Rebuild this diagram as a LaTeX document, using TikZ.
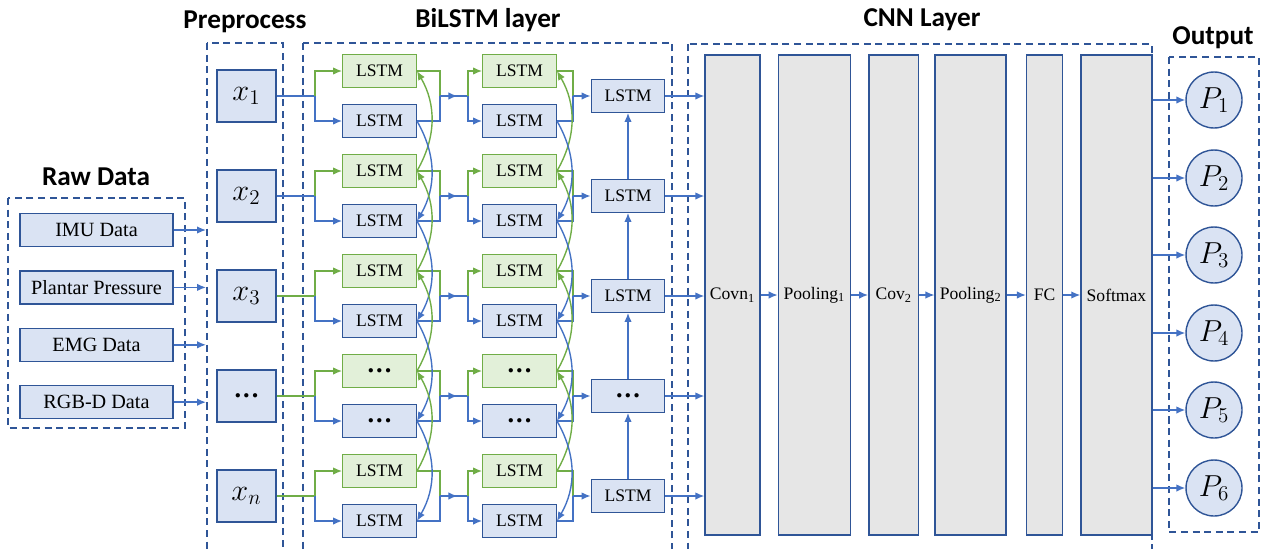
\documentclass[tikz,border=0pt]{standalone}
\usepackage{fontspec}
\setmainfont{Liberation Serif}
\newfontfamily\headfont{Carlito}
\usepackage{xcolor}
\usetikzlibrary{arrows.meta, positioning, calc, decorations.markings}

\definecolor{linkblue}{RGB}{68,114,196}
\definecolor{edgeblue}{RGB}{47,85,151}
\definecolor{cellblue}{RGB}{218,227,243}
\definecolor{linkgreen}{RGB}{112,173,71}
\definecolor{cellgreen}{RGB}{226,240,217}
\definecolor{layergray}{RGB}{230,230,230}

\newcommand{\vsub}[2]{$#1_{#2}$}
\newcommand{\gapdots}{{\fontsize{15}{15}\selectfont\bfseries .\kern1.2pt.\kern1.2pt.}}

\tikzset{
  groupframe/.style={
    draw=edgeblue, line width=1.15pt, dash pattern=on 4pt off 2.6pt
  },
  grouptitle/.style={
    font=\headfont\bfseries\fontsize{15.5}{18}\selectfont, inner sep=0pt
  },
  rawbox/.style={
    draw=edgeblue, fill=cellblue, line width=0.8pt, inner sep=0pt,
    minimum width=3.06cm, minimum height=0.66cm,
    font=\fontsize{11.5}{13}\selectfont
  },
  innode/.style={
    draw=edgeblue, fill=cellblue, line width=0.8pt, inner sep=0pt,
    minimum width=1.18cm, minimum height=1.04cm,
    font=\fontsize{17}{19}\selectfont
  },
  fwdcell/.style={
    draw=edgeblue, fill=cellblue, line width=0.8pt, inner sep=0pt,
    minimum width=1.47cm, minimum height=0.65cm,
    font=\fontsize{10}{12}\selectfont
  },
  bwdcell/.style={fwdcell, draw=linkgreen, fill=cellgreen},
  layerbox/.style={
    draw=edgeblue, fill=layergray, line width=0.8pt, inner sep=0pt,
    minimum height=9.6cm, font=\fontsize{10}{12}\selectfont
  },
  outnode/.style={
    circle, draw=edgeblue, fill=cellblue, line width=0.8pt, inner sep=0pt,
    minimum size=1.12cm, font=\fontsize{18}{20}\selectfont
  },
  link/.style={draw=linkblue, line width=0.8pt},
  greenlink/.style={draw=linkgreen, line width=0.8pt},
  linkarrow/.style={link, -{Latex[length=1.8mm, width=1.5mm]}},
  greenarrow/.style={greenlink, -{Latex[length=1.8mm, width=1.5mm]}},
  midtip/.style={
    postaction={decorate},
    decoration={markings, mark=at position 0.62 with {\arrow{Latex[length=1.8mm, width=1.5mm]}}}
  },
}

\begin{document}
\begin{tikzpicture}[x=0.02cm, y=-0.02cm]
  \useasboundingbox (0,0) rectangle (1263,548);

  % frames and titles
  \draw[groupframe] (8,198) rectangle (185,428);
  \draw[groupframe] (207,43) rectangle (283,570);
  \draw[groupframe] (303,43) rectangle (672,570);
  \draw[groupframe] (688,44) rectangle (1152,570);
  \draw[groupframe] (1169,57) rectangle (1259,532);

  \node[grouptitle] (rawtitle) at (96,177) {Raw Data};
  \node[grouptitle] (pretitle) at (245,22) {Preprocess};
  \node[grouptitle] (bititle) at (488,20) {BiLSTM layer};
  \node[grouptitle] (cnntitle) at (922,20) {CNN Layer};
  \node[grouptitle] (outtitle) at (1213,38) {Output};

  % raw data
  \node[rawbox] (imu) at (96.5,230) {IMU Data};
  \node[rawbox, below=0.46cm of imu] (plantar) {Plantar Pressure};
  \node[rawbox, below=0.46cm of plantar] (emg) {EMG Data};
  \node[rawbox, below=0.46cm of emg] (rgbd) {RGB-D Data};
  \coordinate (preleft) at (206,0);
  \foreach \src in {imu,plantar,emg,rgbd}
    \draw[linkarrow] (\src.east) -- (\src.east -| preleft);

  % preprocess and BiLSTM cells
  \foreach \k/\sym in {1/\vsub{x}{1},2/\vsub{x}{2},3/\vsub{x}{3},4/\gapdots,5/\vsub{x}{n}}
    \node[innode] (in\k) at (246.5,{96+100*(\k-1)}) {\sym};

  \foreach \k/\txt in {1/LSTM,2/LSTM,3/LSTM,4/\gapdots,5/LSTM} {
    \node[bwdcell] (g1-\k) at (379.5,{71+100*(\k-1)}) {\txt};
    \node[fwdcell] (b1-\k) at (379.5,{121+100*(\k-1)}) {\txt};
    \node[bwdcell] (g2-\k) at (519.5,{71+100*(\k-1)}) {\txt};
    \node[fwdcell] (b2-\k) at (519.5,{121+100*(\k-1)}) {\txt};
    \node[fwdcell] (top-\k) at (628,{96+100*(\k-1)}) {\txt};
  }

  % CNN layers
  \node[layerbox, minimum width=1.1cm] (covn) at (732.5,295) {Covn\textsubscript{1}};
  \node[layerbox, minimum width=1.44cm, right=0.34cm of covn] (pool1) {Pooling\textsubscript{1}};
  \node[layerbox, minimum width=1.0cm, right=0.34cm of pool1] (cov2) {Cov\textsubscript{2}};
  \node[layerbox, minimum width=1.42cm, right=0.3cm of cov2] (pool2) {Pooling\textsubscript{2}};
  \node[layerbox, minimum width=0.72cm, right=0.38cm of pool2] (fc) {FC};
  \node[layerbox, minimum width=1.42cm, right=0.34cm of fc] (softmax) {Softmax};
  \draw[linkarrow] (covn) -- (pool1);
  \draw[linkarrow] (pool1) -- (cov2);
  \draw[linkarrow] (cov2) -- (pool2);
  \draw[linkarrow] (pool2) -- (fc);
  \draw[linkarrow] (fc) -- (softmax);

  % row connectors
  \foreach \k/\c in {1/linkblue,2/linkblue,3/linkgreen,4/linkgreen,5/linkgreen} {
    \coordinate (s0-\k) at (315,{96+100*(\k-1)});
    \coordinate (j1-\k) at (440,{96+100*(\k-1)});
    \coordinate (s1-\k) at (468,{96+100*(\k-1)});
    \coordinate (j2-\k) at (573,{96+100*(\k-1)});
    \draw[link, draw=\c] (in\k.east) -- (s0-\k);
    \draw[greenarrow] (s0-\k) |- (g1-\k.west);
    \draw[linkarrow] (s0-\k) |- (b1-\k.west);
    \draw[greenlink] (g1-\k.east) -| (j1-\k);
    \draw[link] (b1-\k.east) -| (j1-\k);
    \draw[link, midtip] (j1-\k) -- (s1-\k);
    \draw[greenarrow] (s1-\k) |- (g2-\k.west);
    \draw[linkarrow] (s1-\k) |- (b2-\k.west);
    \draw[greenlink] (g2-\k.east) -| (j2-\k);
    \draw[link] (b2-\k.east) -| (j2-\k);
    \draw[linkarrow] (j2-\k) -- (j2-\k -| top-\k.west);
    \draw[linkarrow] (top-\k.east) -- (top-\k.east -| covn.west);
  }

  % recurrent links
  \foreach \k in {1,...,4} {
    \pgfmathtruncatemacro\n{\k+1}
    \draw[greenarrow] (g1-\n.east) to[bend right=30] (g1-\k.east);
    \draw[linkarrow] (b1-\k.east) to[bend left=30] (b1-\n.east);
    \draw[greenarrow] (g2-\n.east) to[bend right=30] (g2-\k.east);
    \draw[linkarrow] (b2-\k.east) to[bend left=30] (b2-\n.east);
    \draw[linkarrow] (top-\n) -- (top-\k);
  }

  % output
  \foreach \k/\y in {1/100,2/178,3/255,4/333,5/410,6/488} {
    \node[outnode] (p\k) at (1214,\y) {\vsub{P}{\k}};
    \draw[linkarrow] (p\k.west -| softmax.east) -- (p\k.west);
  }
\end{tikzpicture}
\end{document}
